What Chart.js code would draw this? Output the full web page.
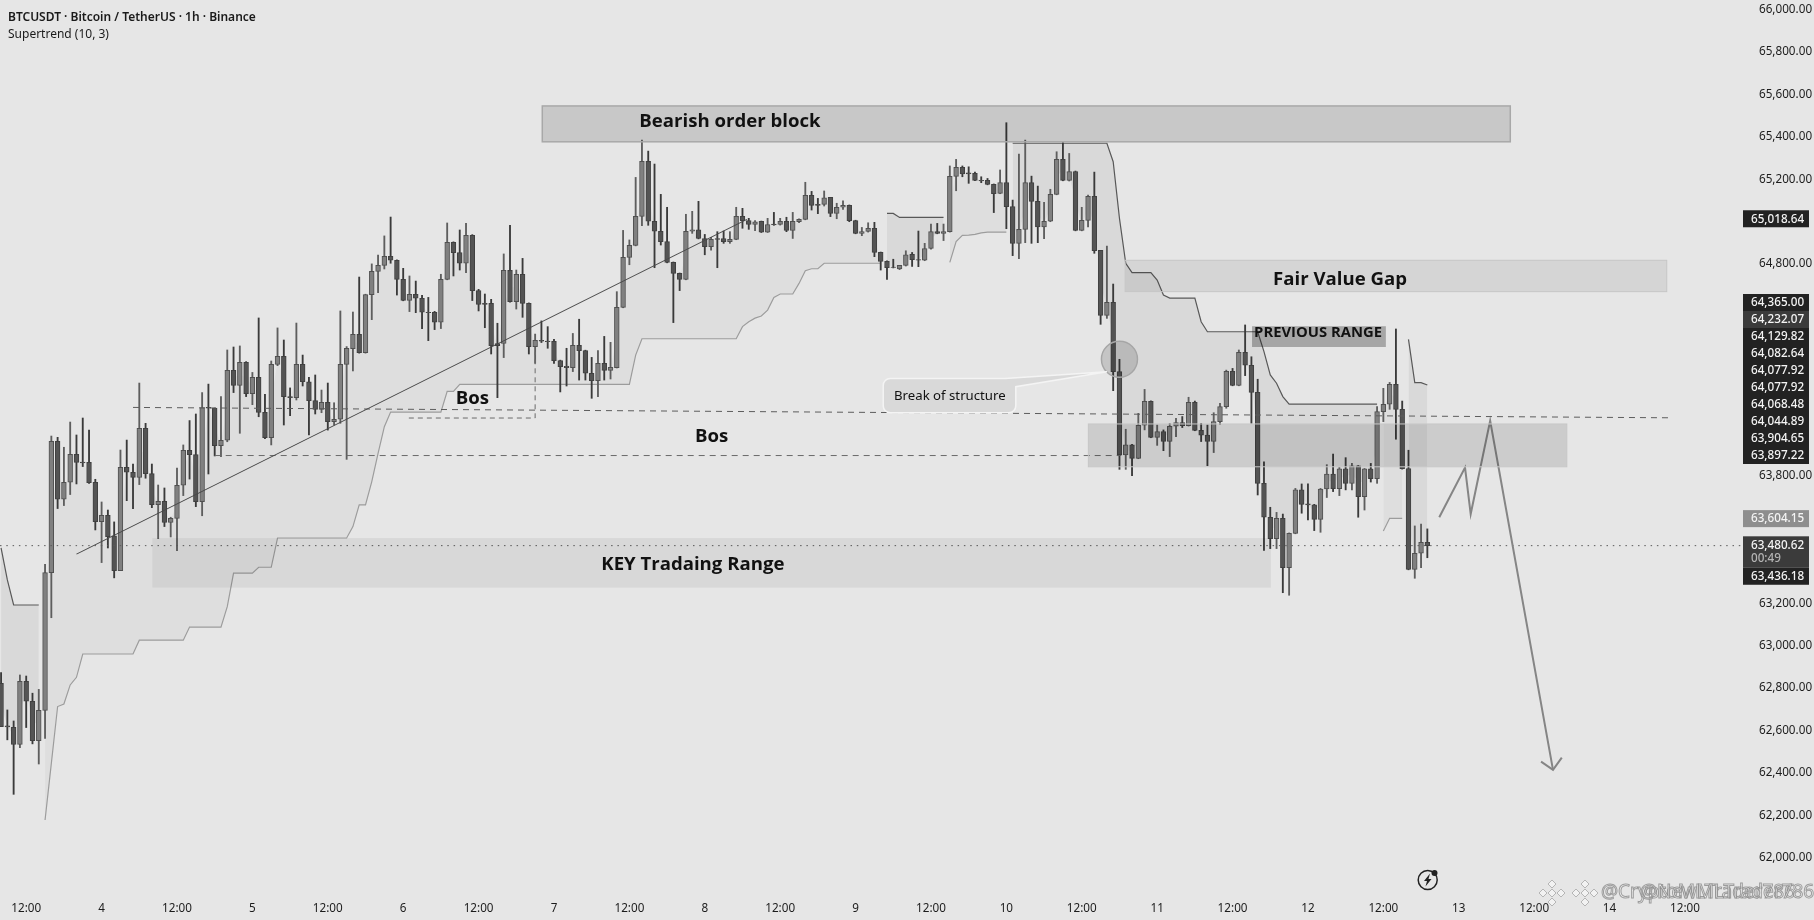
<!DOCTYPE html>
<html>
<head>
<meta charset="utf-8">
<style>
  html, body { margin: 0; padding: 0; background: #e6e6e6; }
  canvas { display: block; }
</style>
<script src="https://cdn.jsdelivr.net/npm/chart.js@4/dist/chart.umd.min.js"></script>
</head>
<body>
<canvas id="btc" width="1814" height="920"></canvas>
<script>
// hours since Jan 3 12:00, first candle is 4 hours before that
const FIRST_HOUR = -4;

const OPENS = [
  62823,62622,62615,62534,62832,62738,62552,62695,63345,63964,63691,63771,
  63903,63866,63865,63771,63585,63615,63518,63354,63841,63818,63794,64025,
  63812,63665,63681,63581,63601,63757,63922,63901,63680,64124,64121,63944,
  63969,64299,64228,64337,64189,64266,64101,63981,64327,64365,64175,64170,
  64327,64245,64156,64115,64148,64057,64068,64327,64401,64469,64382,64656,
  64766,64794,64837,64818,64728,64629,64658,64639,64573,64573,64526,64728,
  64903,64854,64804,64936,64675,64615,64615,64425,64426,64771,64623,64752,
  64615,64411,64440,64437,64436,64345,64318,64312,64417,64392,64285,64250,
  64332,64299,64312,64596,64832,64888,65025,65285,65002,64955,64906,64808,
  64756,64728,64955,64962,64921,64882,64921,64921,64906,64917,65025,65005,
  64987,65002,64951,64989,64987,65002,64959,65000,65011,65124,65082,65082,
  65115,65039,65068,65077,65005,64945,64954,64969,64855,64813,64786,64777,
  64794,64846,64821,64819,64874,64953,64945,64953,65214,65256,65230,65228,
  65195,65195,65176,65134,65184,65071,64898,64964,65184,65096,64976,65002,
  65129,65294,65195,65237,64959,65006,65120,64865,64558,64620,64293,63900,
  63948,63884,64040,64153,63983,64010,63964,64035,64052,64038,64148,64016,
  63993,63964,64057,64128,64294,64228,64384,64323,64195,63766,63606,63505,
  63601,63368,63530,63735,63669,63664,63596,63739,63810,63741,63834,63766,
  63848,63703,63834,63788,64104,64139,64233,64115,63835,63360,63436,63488
];
const HIGHS = [
  62873,62697,62645,62862,62857,62776,62794,63384,63989,63983,63936,64055,
  63994,64074,64017,63785,63678,63640,63584,63923,63970,63857,64239,64049,
  63857,63758,63744,63606,63838,63947,64062,64093,64194,64234,64121,64175,
  64395,64409,64414,64340,64289,64546,64186,64343,64499,64442,64216,64522,
  64371,64266,64277,64206,64239,64146,64579,64411,64574,64739,64658,64801,
  64843,64933,65022,64820,64780,64744,64720,64653,64643,64577,64752,64994,
  64905,64961,64992,64939,64681,64659,64634,64521,64848,64983,64772,64827,
  64617,64470,64532,64505,64445,64347,64403,64473,64540,64394,64360,64392,
  64459,64431,64670,64959,64914,65209,65385,65333,65272,65129,65068,64810,
  64758,65035,65049,65096,64940,64926,64953,64956,64953,65068,65063,65016,
  65005,65003,65016,65044,65016,65021,65044,65013,65186,65143,65110,65145,
  65115,65087,65098,65079,65007,64973,64995,64997,64857,64815,64823,64794,
  64863,64855,64956,64898,64989,64992,64989,65263,65294,65263,65259,65234,
  65212,65204,65178,65244,65467,65102,65319,65385,65215,65168,65091,65153,
  65330,65373,65322,65239,65068,65126,65234,64865,64885,64706,64351,64021,
  63950,64096,64209,64155,64041,64018,64049,64073,64081,64172,64154,64049,
  64041,64099,64143,64300,64308,64395,64513,64363,64257,63867,63653,63629,
  63621,63532,63742,63763,63763,63667,63742,63854,63904,63841,63887,63860,
  63850,63836,63860,64128,64214,64242,64494,64154,63922,63565,63574,63551
];
const LOWS = [
  62618,62556,62299,62519,62614,62537,62442,62563,63132,63647,63661,63713,
  63763,63845,63765,63546,63392,63461,63320,63354,63684,63647,63760,63790,
  63651,63505,63562,63513,63448,63708,63786,63656,63613,63810,63895,63892,
  63962,64194,64002,64175,64137,64080,63977,63947,64321,64041,64085,64159,
  64225,63994,64093,64099,64017,64041,64049,63879,64296,64380,64380,64538,
  64665,64777,64804,64654,64627,64576,64571,64496,64439,64491,64496,64726,
  64744,64772,64760,64628,64579,64500,64376,64170,64359,64620,64588,64549,
  64376,64332,64430,64403,64332,64197,64225,64293,64253,64253,64167,64175,
  64253,64258,64310,64594,64797,64886,64981,64983,64783,64890,64806,64524,
  64675,64726,64945,64919,64844,64866,64783,64898,64898,64915,64969,64964,
  64958,64949,64949,64983,64984,64953,64921,64995,65009,65055,65038,65074,
  65024,65014,65058,65000,64943,64934,64951,64835,64772,64728,64782,64774,
  64791,64789,64788,64816,64871,64943,64911,64951,65146,65212,65181,65193,
  65184,65174,65043,65132,64967,64840,64826,64901,64898,64901,64920,65000,
  65127,65193,65192,64957,64957,64976,64851,64516,64544,64203,63832,63832,
  63802,63882,64018,63981,63945,63920,63892,63986,64029,64036,64014,63963,
  63849,63911,64044,64120,64226,64226,64274,64049,63711,63449,63458,63458,
  63250,63238,63528,63625,63593,63543,63535,63699,63727,63708,63735,63735,
  63606,63640,63772,63766,64057,64115,63974,63833,63358,63318,63368,63415
];
const CLOSES = [
  62618,62617,62534,62832,62738,62552,62695,63345,63964,63691,63771,63903,
  63865,63862,63769,63585,63615,63514,63354,63841,63818,63794,64025,63812,
  63665,63681,63581,63601,63757,63922,63901,63680,64123,64121,63944,63969,
  64299,64228,64337,64189,64266,64101,63981,64327,64365,64175,64170,64327,
  64245,64156,64115,64148,64057,64068,64327,64403,64469,64382,64656,64766,
  64794,64837,64818,64728,64629,64658,64639,64573,64571,64526,64728,64903,
  64854,64804,64936,64675,64610,64610,64415,64415,64771,64623,64752,64615,
  64411,64440,64436,64434,64345,64316,64312,64417,64392,64285,64250,64332,
  64299,64313,64596,64832,64888,65025,65285,65002,64955,64906,64808,64756,
  64728,64955,64962,64921,64882,64917,64917,64906,64917,65025,65005,64987,
  65000,64951,64987,64985,65002,64959,65002,65011,65124,65077,65077,65113,
  65039,65068,65077,65005,64945,64954,64969,64855,64813,64783,64784,64794,
  64844,64821,64818,64873,64953,64945,64953,65214,65256,65225,65225,65195,
  65192,65176,65132,65184,65071,64898,64964,65184,65096,64976,65002,65129,
  65294,65195,65237,64959,65006,65120,64863,64558,64620,64293,63900,63948,
  63884,64040,64153,63983,64010,63964,64035,64052,64038,64148,64016,63993,
  63964,64057,64128,64294,64228,64384,64323,64195,63766,63606,63505,63601,
  63368,63530,63735,63667,63664,63596,63739,63810,63741,63834,63766,63848,
  63703,63834,63788,64104,64139,64233,64115,63835,63360,63436,63488,63472
];
const SUPERTREND = [
  63461,63310,63192,63192,63192,63192,63192,62178,62445,62713,62725,62815,
  62851,62961,62961,62961,62961,62961,62961,62961,62961,62961,63026,63026,
  63026,63026,63026,63026,63026,63026,63088,63088,63088,63088,63088,63088,
  63184,63342,63342,63342,63342,63370,63370,63370,63508,63508,63508,63508,
  63508,63508,63508,63508,63508,63508,63508,63508,63562,63664,63664,63774,
  63907,64033,64102,64102,64102,64102,64102,64102,64102,64102,64102,64200,
  64200,64233,64233,64233,64233,64233,64233,64233,64233,64233,64233,64233,
  64233,64233,64233,64233,64233,64233,64233,64233,64233,64233,64233,64233,
  64233,64233,64233,64233,64233,64371,64448,64448,64448,64448,64448,64448,
  64448,64448,64448,64448,64448,64448,64448,64448,64448,64448,64505,64528,
  64545,64555,64583,64643,64659,64659,64659,64709,64769,64778,64778,64804,
  64804,64804,64804,64804,64804,64804,64804,64804,64804,65039,65039,65020,
  65020,65020,65020,65020,65020,65020,65020,64808,64906,64936,64937,64940,
  64947,64951,64951,64951,64951,65370,65370,65370,65370,65370,65370,65370,
  65370,65370,65370,65370,65370,65370,65370,65370,65370,65283,65016,64804,
  64760,64760,64760,64760,64725,64654,64640,64640,64640,64640,64640,64528,
  64481,64481,64481,64481,64481,64481,64481,64481,64481,64387,64277,64238,
  64175,64140,64140,64140,64140,64140,64140,64140,64140,64140,64140,64140,
  64140,64140,64140,64140,63541,63601,63601,63601,64445,64241,64241,64230
];

const Y_TICKS = [66000,65800,65600,65400,65200,64800,63800,63200,63000,62800,62600,62400,62200,62000];
const X_TICK_LABELS = ['12:00','4','12:00','5','12:00','6','12:00','7','12:00','8','12:00','9','12:00','10','12:00','11','12:00','12','12:00','13','12:00','14','12:00'];

// price labels on the right axis, upper group stacks up from the lowest one
const STACKED_PRICES = [64365.00,64232.07,64129.82,64082.64,64077.92,64077.92,64068.48,64044.89,63904.65,63897.22];
const SL_PRICE = 65018.64;
const ST_PRICE = 63604.15;
const LAST_PRICE = 63480.62;
const LOW_PRICE = 63436.18;

// drawings, [hour, price]
const TREND_LINE = [[8,63432],[114.7,65011]];
const BOS_LINE_A = [[17,64124],[262,64075]];
const BOS_LINE_B = [[30,63897],[174.3,63897]];
const BOS_LINE_C = [[60.9,64074],[81,64074],[81,64387]];
const PROJECTION = [[224.9,63606],[229,63840],[229.9,63621],[233,64061],[243,62414]];
const ARROW_HEAD = [[241.1,62453],[243,62414],[244.4,62472]];

const ZONES = [
  { x0: 82.14, x1: 236.2, top: 65546, bottom: 65377, fill: 'rgba(0,0,0,0.13)', stroke: '#a8a8a8', lw: 1.5 },
  { x0: 174.9, x1: 261.1, top: 64818, bottom: 64670, fill: 'rgba(0,0,0,0.07)', stroke: '#c6c6c6', lw: 1 },
  { x0: 169.05, x1: 245.2, top: 64046, bottom: 63844, fill: 'rgba(0,0,0,0.11)', stroke: '#c6c6c6', lw: 1 },
  { x0: 20.07, x1: 198.1, top: 63508, bottom: 63274, fill: 'rgba(0,0,0,0.06)', stroke: null, lw: 0 },
  { x0: 195.1, x1: 216.4, top: 64507, bottom: 64409, fill: 'rgba(0,0,0,0.28)', stroke: null, lw: 0 }
];
const HEAD_FONT = '700 18.6px "Open Sans"';
const TEXTS = [
  { text: 'Bearish order block', x: 112, y: 65473, font: HEAD_FONT },
  { text: 'Fair Value Gap', x: 209.1, y: 64726, font: HEAD_FONT },
  { text: 'PREVIOUS RANGE', x: 205.6, y: 64475, font: '700 14.8px "Open Sans"' },
  { text: 'KEY Tradaing Range', x: 106.1, y: 63380, font: HEAD_FONT },
  { text: 'Bos', x: 71, y: 64163, font: HEAD_FONT },
  { text: 'Bos', x: 109.1, y: 63987, font: HEAD_FONT }
];

const hours = OPENS.map((_, i) => i + FIRST_HOUR);
const isUp = i => CLOSES[i] >= OPENS[i];
const mids = OPENS.map((o, i) => (o + CLOSES[i]) / 2);
const stUp = SUPERTREND.map((v, i) => v < mids[i] ? v : null);
const stDown = SUPERTREND.map((v, i) => v >= mids[i] ? v : null);
const toXY = pts => pts.map(p => ({ x: p[0], y: p[1] }));

const lineSet = (pts, color, width, dash) => ({
  type: 'line', data: toXY(pts), borderColor: color, borderWidth: width, borderDash: dash || [],
  pointRadius: 0, tension: 0, fill: false, order: 1
});

const drawings = {
  id: 'drawings',
  afterDatasetsDraw(chart) {
    const { ctx, scales: { x, y } } = chart;
    const px = h => x.getPixelForValue(h);
    const py = p => y.getPixelForValue(p);
    ctx.save();

    ZONES.forEach(z => {
      const l = px(z.x0), t = py(z.top), w = px(z.x1) - l, h = py(z.bottom) - t;
      ctx.fillStyle = z.fill;
      ctx.fillRect(l, t, w, h);
      if (z.stroke) {
        ctx.strokeStyle = z.stroke;
        ctx.lineWidth = z.lw;
        ctx.strokeRect(l, t, w, h);
      }
    });

    // break of structure circle
    ctx.beginPath();
    ctx.arc(px(174), py(64351), 18, 0, Math.PI * 2);
    ctx.fillStyle = 'rgba(0,0,0,0.14)';
    ctx.fill();
    ctx.strokeStyle = '#a6a6a6';
    ctx.lineWidth = 1.5;
    ctx.stroke();

    // callout with its pointer
    const l = px(136.4), r = px(157.5), t = py(64261), b = py(64099), rad = 7;
    ctx.beginPath();
    ctx.moveTo(l + rad, t);
    ctx.lineTo(px(155.8), t);
    ctx.lineTo(px(172), py(64292));
    ctx.lineTo(r, py(64222));
    ctx.lineTo(r, b - rad);
    ctx.arcTo(r, b, r - rad, b, rad);
    ctx.lineTo(l + rad, b);
    ctx.arcTo(l, b, l, b - rad, rad);
    ctx.lineTo(l, t + rad);
    ctx.arcTo(l, t, l + rad, t, rad);
    ctx.closePath();
    ctx.fillStyle = '#d9d9d9';
    ctx.fill();
    ctx.strokeStyle = '#f4f4f4';
    ctx.lineWidth = 1.5;
    ctx.stroke();

    ctx.textAlign = 'center';
    ctx.textBaseline = 'middle';
    ctx.fillStyle = '#111';
    ctx.font = '13.2px "Noto Sans"';
    ctx.fillText('Break of structure', px(147), py(64178));
    TEXTS.forEach(t => {
      ctx.font = t.font;
      ctx.fillText(t.text, px(t.x), py(t.y));
    });

    // header
    ctx.textAlign = 'left';
    ctx.fillStyle = '#1a1a1a';
    ctx.font = '600 12px "Noto Sans"';
    ctx.fillText('BTCUSDT \u00b7 Bitcoin / TetherUS \u00b7 1h \u00b7 Binance', 8, 17.5);
    ctx.font = '12px "Noto Sans"';
    ctx.fillText('Supertrend (10, 3)', 8, 34.5);

    // replay icon
    ctx.strokeStyle = '#222';
    ctx.lineWidth = 1.5;
    ctx.beginPath();
    ctx.arc(1427.7, 880, 9.5, 0, Math.PI * 2);
    ctx.stroke();
    ctx.fillStyle = '#222';
    ctx.beginPath();
    [[1430,873.5],[1424,881],[1427,881],[1425.5,886.5],[1431.5,879],[1428.5,879]].forEach((p, i) => i ? ctx.lineTo(p[0], p[1]) : ctx.moveTo(p[0], p[1]));
    ctx.closePath();
    ctx.fill();
    ctx.beginPath();
    ctx.arc(1434.5, 873, 3, 0, Math.PI * 2);
    ctx.fillStyle = '#222';
    ctx.fill();

    // watermark
    [1552, 1585].forEach(cx => {
      ctx.fillStyle = '#f2f2f2';
      ctx.strokeStyle = '#b5b5b5';
      ctx.lineWidth = 1;
      [[0,-9],[0,9],[-9,0],[9,0],[0,0]].forEach(o => {
        ctx.beginPath();
        ctx.moveTo(cx + o[0], 893 + o[1] - 4);
        ctx.lineTo(cx + o[0] + 4, 893 + o[1]);
        ctx.lineTo(cx + o[0], 893 + o[1] + 4);
        ctx.lineTo(cx + o[0] - 4, 893 + o[1]);
        ctx.closePath();
        ctx.fill();
        ctx.stroke();
      });
    });
    ctx.font = '19px "Noto Sans"';
    ctx.lineWidth = 1;
    ctx.strokeStyle = 'rgba(130,130,130,0.75)';
    ctx.fillStyle = 'rgba(245,245,245,0.7)';
    ['@CryptoMLTrader786', '@NewMLTrader786'].forEach((s, i) => {
      ctx.fillText(s, i ? 1640 : 1601, 893);
      ctx.strokeText(s, i ? 1640 : 1601, 893);
    });

    // axis price labels
    const BOX_L = 1743, BOX_W = 66, BOX_H = 17, TXT = 1751;
    const fmt = v => v.toLocaleString('en-US', { minimumFractionDigits: 2 });
    const box = (yc, h, color, text) => {
      ctx.fillStyle = color;
      ctx.fillRect(BOX_L, yc - 8.5, BOX_W, h);
      ctx.fillStyle = '#f4f4f4';
      ctx.fillText(text, TXT, yc + 0.5);
    };
    ctx.font = '500 11.7px "Noto Sans"';
    box(py(SL_PRICE) + 1, BOX_H, '#222222', fmt(SL_PRICE));
    let next = py(STACKED_PRICES[STACKED_PRICES.length - 1]);
    for (let i = STACKED_PRICES.length - 1; i >= 0; i--) {
      box(next, BOX_H, i === 1 ? '#3b3b3b' : '#222222', fmt(STACKED_PRICES[i]));
      next -= BOX_H;
    }
    box(py(ST_PRICE) + 1, BOX_H, '#8e8e8e', fmt(ST_PRICE));
    const lastY = py(LAST_PRICE) + 1;
    box(lastY, BOX_H * 1.85, '#3b3b3b', fmt(LAST_PRICE));
    ctx.fillStyle = '#b4b4b4';
    ctx.fillText('00:49', TXT, lastY + 14);
    box(lastY + BOX_H * 1.85, BOX_H, '#222222', fmt(LOW_PRICE));

    ctx.restore();
  }
};

new Chart(document.getElementById('btc'), {
  type: 'bar',
  plugins: [drawings],
  data: {
    datasets: [
      // invisible body mid line, supertrend fills go to it
      { type: 'line', data: hours.map((h, i) => ({ x: h, y: mids[i] })), borderWidth: 0, borderColor: 'transparent', pointRadius: 0, tension: 0, fill: false, order: 20 },
      { type: 'line', data: hours.map((h, i) => ({ x: h, y: stUp[i] })), borderColor: '#9c9c9c', borderWidth: 1.2, pointRadius: 0, tension: 0, spanGaps: false, fill: { target: 0 }, backgroundColor: 'rgba(0,0,0,0.032)', order: 12 },
      { type: 'line', data: hours.map((h, i) => ({ x: h, y: stDown[i] })), borderColor: '#585858', borderWidth: 1.2, pointRadius: 0, tension: 0, spanGaps: false, fill: { target: 0 }, backgroundColor: 'rgba(0,0,0,0.055)', order: 11 },
      // wicks
      { data: hours.map((h, i) => ({ x: h, y: [LOWS[i], HIGHS[i]] })), backgroundColor: hours.map((_, i) => isUp(i) ? '#5e5e5e' : '#3a3a3a'), barThickness: 1.2, grouped: false, order: 6 },
      // bodies
      { data: hours.map((h, i) => ({ x: h, y: [OPENS[i], CLOSES[i]] })), backgroundColor: hours.map((_, i) => isUp(i) ? '#808080' : '#545454'), borderColor: hours.map((_, i) => isUp(i) ? '#505050' : '#404040'), borderWidth: 1, borderSkipped: false, barThickness: 4.8, grouped: false, order: 5 },
      lineSet(TREND_LINE, '#484848', 1.1),
      lineSet(BOS_LINE_A, '#5c5c5c', 1, [6, 5]),
      lineSet(BOS_LINE_B, '#6a6a6a', 1, [6, 5]),
      lineSet(BOS_LINE_C, '#6a6a6a', 1, [5, 4]),
      lineSet(PROJECTION, '#858585', 2),
      lineSet(ARROW_HEAD, '#858585', 2),
      lineSet([[-4.17, CLOSES[CLOSES.length - 1]], [273.24, CLOSES[CLOSES.length - 1]]], '#5a5a5a', 1, [1.5, 4.8])
    ]
  },
  options: {
    responsive: false,
    animation: false,
    events: [],
    layout: { padding: 0 },
    plugins: { legend: { display: false }, tooltip: { enabled: false } },
    scales: {
      x: {
        type: 'linear', min: -4.17, max: 273.24, offset: false,
        grid: { display: false }, border: { display: false },
        afterBuildTicks: s => { s.ticks = X_TICK_LABELS.map((_, i) => ({ value: i * 12 })); },
        afterFit: s => { s.height = 31; s.paddingLeft = 0; s.paddingRight = 0; },
        ticks: { autoSkip: false, maxRotation: 0, padding: 5, color: '#1c1c1c', font: { family: '"Noto Sans"', size: 11.7 }, callback: v => X_TICK_LABELS[v / 12] }
      },
      y: {
        position: 'right', min: 61852.4, max: 66045.8,
        grid: { display: false }, border: { display: false },
        afterBuildTicks: s => { s.ticks = Y_TICKS.map(v => ({ value: v })); },
        afterFit: s => { s.width = 71; s.paddingTop = 0; s.paddingBottom = 0; },
        ticks: { autoSkip: false, padding: 8, crossAlign: 'near', color: '#1c1c1c', font: { family: '"Noto Sans"', size: 11.7 }, callback: v => v.toLocaleString('en-US', { minimumFractionDigits: 2 }) }
      }
    }
  }
});
</script>
</body>
</html>
